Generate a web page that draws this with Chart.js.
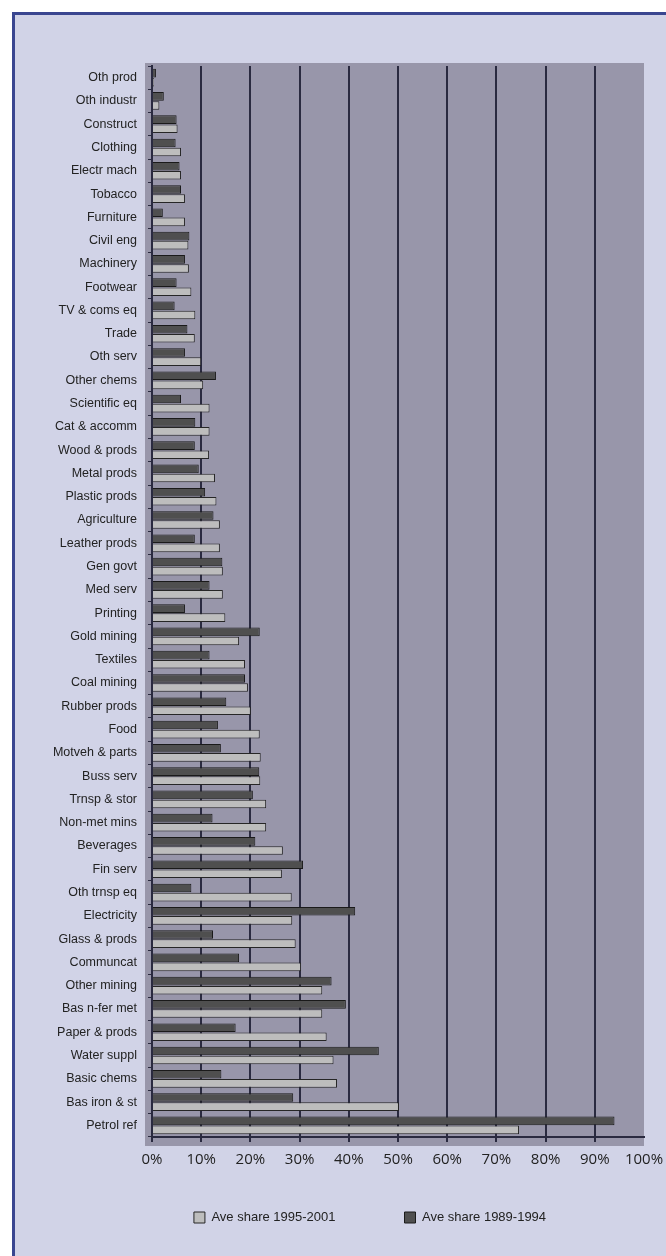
<!DOCTYPE html>
<html>
<head>
<meta charset="utf-8">
<script src="https://cdn.jsdelivr.net/npm/chart.js@4.4.1/dist/chart.umd.min.js"></script>
<style>
  html, body { margin: 0; padding: 0; background: #ffffff; }
  body { width: 666px; height: 1256px; overflow: hidden; position: relative; }
  #frame {
    position: absolute; left: 12px; top: 12px;
    width: 700px; height: 1300px;
    border: 3px solid #3a4690; background: #d1d3e7;
  }
  #wrap { position: absolute; left: 0; top: 0; width: 666px; height: 1256px; }
</style>
</head>
<body>
<div id="frame"></div>
<div id="wrap"><canvas id="shareChart" width="666" height="1256"></canvas></div>
<script>
// Kategori sektor (atas ke bawah)
const categories = [
  'Oth prod', 'Oth industr', 'Construct', 'Clothing', 'Electr mach', 'Tobacco',
  'Furniture', 'Civil eng', 'Machinery', 'Footwear', 'TV & coms eq', 'Trade',
  'Oth serv', 'Other chems', 'Scientific eq', 'Cat & accomm', 'Wood & prods',
  'Metal prods', 'Plastic prods', 'Agriculture', 'Leather prods', 'Gen govt',
  'Med serv', 'Printing', 'Gold mining', 'Textiles', 'Coal mining', 'Rubber prods',
  'Food', 'Motveh & parts', 'Buss serv', 'Trnsp & stor', 'Non-met mins',
  'Beverages', 'Fin serv', 'Oth trnsp eq', 'Electricity', 'Glass & prods',
  'Communcat', 'Other mining', 'Bas n-fer met', 'Paper & prods', 'Water suppl',
  'Basic chems', 'Bas iron & st', 'Petrol ref'
];

// Ave share 1989-1994 (batang gelap)
const share8994 = [
  0.8, 2.4, 5.0, 4.8, 5.6, 5.9,
  2.2, 7.6, 6.7, 5.0, 4.6, 7.2,
  6.7, 13.0, 5.9, 8.8, 8.7,
  9.5, 10.8, 12.5, 8.7, 14.3,
  11.7, 6.7, 21.9, 11.7, 18.9, 15.1,
  13.4, 14.0, 21.8, 20.5, 12.3,
  21.0, 30.7, 8.0, 41.3, 12.4,
  17.7, 36.5, 39.4, 17.0, 46.1,
  14.1, 28.7, 94.0
];

// Ave share 1995-2001 (batang terang)
const share9501 = [
  0.4, 1.5, 5.2, 5.9, 5.9, 6.7,
  6.7, 7.4, 7.5, 8.0, 8.8, 8.7,
  10.0, 10.4, 11.7, 11.7, 11.6,
  12.8, 13.1, 13.8, 13.8, 14.4,
  14.4, 14.9, 17.7, 18.9, 19.5, 20.1,
  21.9, 22.1, 22.0, 23.2, 23.2,
  26.6, 26.4, 28.4, 28.5, 29.2,
  30.3, 34.6, 34.6, 35.5, 36.9,
  37.6, 50.2, 74.6
];

const xTicks = [0, 10, 20, 30, 40, 50, 60, 70, 80, 90, 100];

const darkLine = '#2a2a40';

// Latar abu-abu area plot
const plotBackground = {
  id: 'plotBackground',
  beforeDraw(chart) {
    const { ctx, chartArea: a } = chart;
    ctx.save();
    ctx.fillStyle = '#9896aa';
    ctx.fillRect(a.left - 7, a.top - 3, a.right - a.left + 7, a.bottom - a.top + 12);
    ctx.restore();
  }
};

// Geser legenda ke posisi aslinya
const legendShift = {
  id: 'legendShift',
  afterLayout(chart) {
    const lg = chart.legend;
    if (!lg) return;
    lg.left += 48;
    lg.right += 48;
    lg.top = 1142;
    lg.bottom = 1256;
  }
};

const chart = new Chart(document.getElementById('shareChart'), {
  type: 'bar',
  data: {
    labels: categories,
    datasets: [
      {
        label: 'Ave share 1989-1994',
        data: share8994,
        backgroundColor: '#4f4f4f',
        borderColor: '#1a1a1a',
        borderWidth: 1
      },
      {
        label: 'Ave share 1995-2001',
        data: share9501,
        backgroundColor: '#bdbdbd',
        borderColor: '#262626',
        borderWidth: 1
      }
    ]
  },
  options: {
    indexAxis: 'y',
    responsive: false,
    animation: false,
    categoryPercentage: 0.78,
    barPercentage: 0.95,
    layout: { padding: { left: 0, right: 22, top: 66, bottom: 44 } },
    scales: {
      x: {
        min: 0,
        max: 100,
        z: 1,
        afterBuildTicks(scale) { scale.ticks = xTicks.map(v => ({ value: v })); },
        afterFit(scale) {
          scale.height = 35;
          scale.paddingLeft = 0;
          scale.paddingRight = 0;
        },
        border: { display: true, color: darkLine, width: 2 },
        grid: {
          color: ctx => (ctx.tick && ctx.tick.value === 100) ? 'rgba(0,0,0,0)' : darkLine,
          lineWidth: 2,
          tickLength: 5
        },
        ticks: {
          padding: 9,
          color: '#222222',
          font: { family: '"Open Sans", sans-serif', size: 15 },
          callback: v => v + '%'
        }
      },
      y: {
        afterFit(scale) { scale.width = 152; },
        border: { display: true, color: darkLine, width: 2 },
        grid: { drawOnChartArea: false, drawTicks: true, tickLength: 4, color: darkLine, offset: true },
        ticks: {
          padding: 11,
          color: '#222222',
          autoSkip: false,
          font: { family: '"Liberation Sans", Arial, sans-serif', size: 12.5 }
        }
      }
    },
    plugins: {
      legend: {
        position: 'bottom',
        reverse: true,
        maxHeight: 40,
        labels: {
          boxWidth: 11,
          boxHeight: 11,
          padding: 69,
          color: '#222222',
          font: { family: '"Liberation Sans", Arial, sans-serif', size: 13 }
        }
      },
      tooltip: { enabled: false }
    }
  },
  plugins: [plotBackground, legendShift]
});
</script>
</body>
</html>
